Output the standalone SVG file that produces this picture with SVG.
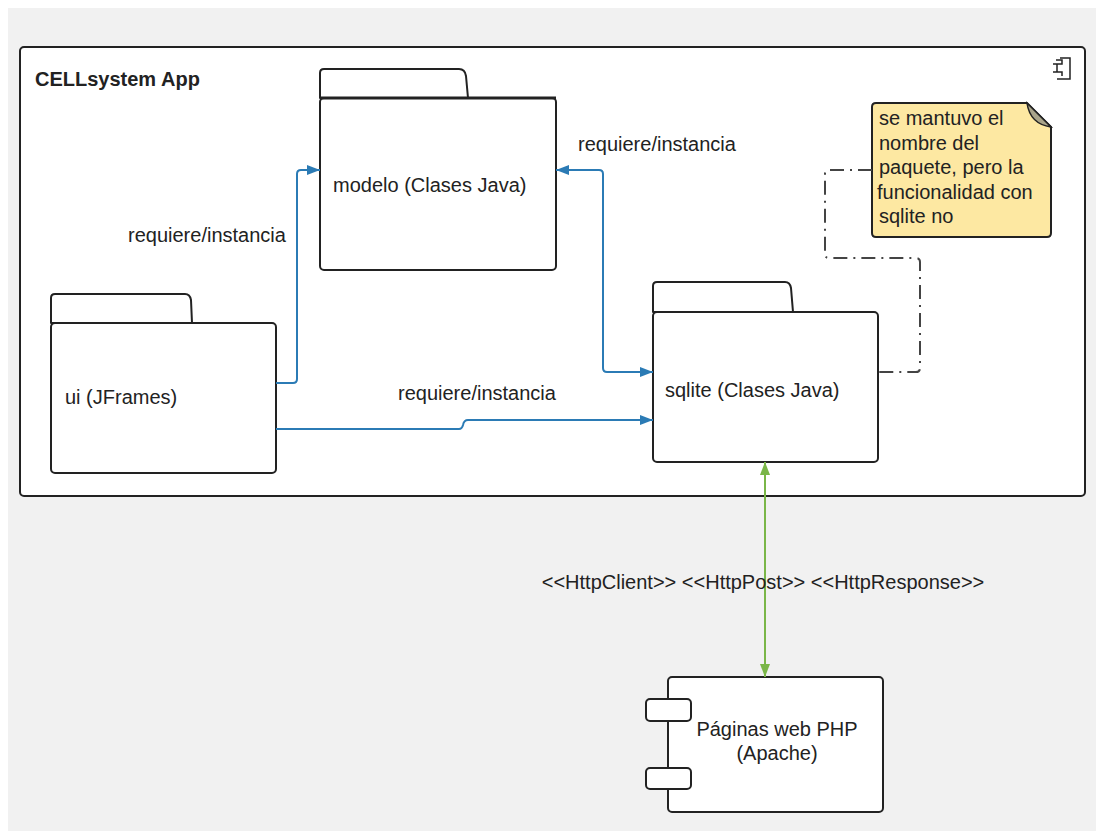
<svg xmlns="http://www.w3.org/2000/svg" width="1096" height="831" viewBox="0 0 1096 831">
<style>
  text { font-family: "Liberation Sans", Arial, sans-serif; font-size: 20px; fill: #222; }
  .title { font-weight: bold; }
  .shape { fill: #fff; stroke: #222; stroke-width: 2; stroke-linejoin: round; }
  .blue { fill: none; stroke: #2b7bb5; stroke-width: 2; }
  .green { fill: none; stroke: #7ab648; stroke-width: 2; }
  .dash { fill: none; stroke: #444; stroke-width: 2; stroke-dasharray: 14 6 2 6; }
</style>
<defs>
  <marker id="ab" markerUnits="userSpaceOnUse" markerWidth="14" markerHeight="12" refX="13" refY="6" orient="auto-start-reverse">
    <path d="M0,1 L13,6 L0,11 Z" fill="#2b7bb5"/>
  </marker>
  <marker id="ag" markerUnits="userSpaceOnUse" markerWidth="14" markerHeight="12" refX="13" refY="6" orient="auto-start-reverse">
    <path d="M0,1 L13,6 L0,11 Z" fill="#7ab648"/>
  </marker>
</defs>
<rect x="0" y="0" width="1096" height="831" fill="#fff"/>
<rect x="8" y="8" width="1088" height="823" fill="#f1f1f1"/>

<g id="cellsystem-app">
  <rect x="20" y="47" width="1065" height="449" rx="4" class="shape"/>
  <text x="35" y="86" class="title">CELLsystem App</text>
  <path d="M1060,58 H1070 V79 H1057" fill="none" stroke="#222" stroke-width="1.5"/>
  <path d="M1056,60 H1062 V64 H1053 M1057,64 V72 M1053,72 H1062 V76" fill="none" stroke="#222" stroke-width="1.5"/>
</g>

<g id="modelo">
  <path d="M320,98 V73 Q320,69 324,69 H459 Q465,69 466,76 L468,98 Z" class="shape"/>
  <rect x="320" y="98" width="236" height="172" rx="4" class="shape"/>
  <line x1="320" y1="98" x2="556" y2="98" stroke="#222" stroke-width="3"/>
  <text x="333" y="192">modelo (Clases Java)</text>
</g>

<g id="ui">
  <path d="M51,323 V298 Q51,294 55,294 H185 Q190,294 191,300 L192,323 Z" class="shape"/>
  <rect x="51" y="323" width="225" height="150" rx="4" class="shape"/>
  <text x="65" y="404">ui (JFrames)</text>
</g>

<g id="sqlite">
  <path d="M653,312 V286 Q653,282 657,282 H785 Q790,282 791,288 L793,312 Z" class="shape"/>
  <rect x="653" y="312" width="225" height="150" rx="4" class="shape"/>
  <text x="665" y="397">sqlite (Clases Java)</text>
</g>

<g id="note">
  <path d="M872,107 Q872,103 876,103 H1027 L1051,127 V233 Q1051,237 1047,237 H876 Q872,237 872,233 Z" fill="#fde8a2" stroke="#222" stroke-width="2"/>
  <path d="M1027,103 Q1030,124 1051,127 Z" fill="#a9a48a" stroke="#222" stroke-width="1.5"/>
  <text x="879" y="125">se mantuvo el</text>
  <text x="879" y="149.5">nombre del</text>
  <text x="879" y="174">paquete, pero la</text>
  <text x="877" y="198.5">funcionalidad con</text>
  <text x="879" y="223">sqlite no</text>
</g>

<g id="paginas-web">
  <rect x="668" y="677" width="215" height="135" rx="4" class="shape"/>
  <rect x="646" y="699" width="45" height="22" rx="4" class="shape"/>
  <rect x="646" y="768" width="45" height="21" rx="4" class="shape"/>
  <text x="777" y="736" text-anchor="middle">Páginas web PHP</text>
  <text x="777" y="760" text-anchor="middle">(Apache)</text>
</g>

<g id="connectors">
  <path d="M276,383 H293 Q297,383 297,379 V174 Q297,170 301,170 H320" class="blue" marker-end="url(#ab)"/>
  <path d="M556,170 H599 Q603,170 603,174 V368 Q603,372 607,372 H653" class="blue" marker-start="url(#ab)" marker-end="url(#ab)"/>
  <path d="M276,429 H459 Q462,429 463,425 Q464,420 468,420 H653" class="blue" marker-end="url(#ab)"/>
  <path d="M765,462 V677" class="green" marker-start="url(#ag)" marker-end="url(#ag)"/>
  <path d="M872,170 H829 Q825,170 825,174 V254 Q825,258 829,258 H916 Q920,258 920,262 V368 Q920,372 916,372 H878" class="dash"/>
  <text x="128" y="242">requiere/instancia</text>
  <text x="578" y="151">requiere/instancia</text>
  <text x="398" y="400">requiere/instancia</text>
  <text x="763" y="589" text-anchor="middle">&lt;&lt;HttpClient&gt;&gt; &lt;&lt;HttpPost&gt;&gt; &lt;&lt;HttpResponse&gt;&gt;</text>
</g>
</svg>
